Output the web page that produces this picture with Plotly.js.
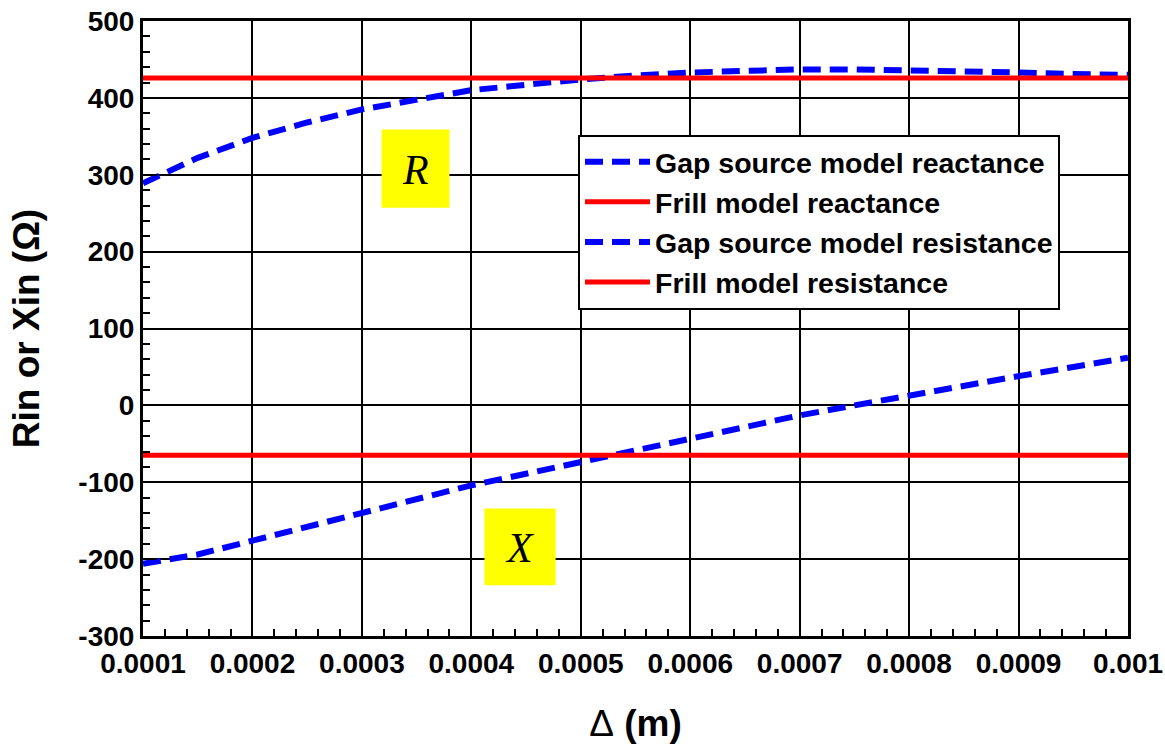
<!DOCTYPE html>
<html><head><meta charset="utf-8">
<script src="https://cdn.plot.ly/plotly-3.0.1.min.js"></script>
<style>html,body{margin:0;padding:0;background:#fff}#plot{width:1165px;height:745px}</style>
</head><body><div id="plot"></div>
<script>
const delta = [0.0001,0.00015,0.0002,0.00025,0.0003,0.00035,0.0004,0.00045,0.0005,0.00055,0.0006,0.00065,0.0007,0.00075,0.0008,0.00085,0.0009,0.00095,0.001];
const gapReactance = [-206,-194,-176,-158,-139,-121,-104,-89,-74,-58,-43,-28,-13,0,13,26,38,50,62];
const gapResistance = [289,322,348,368,385,398,410,417,424,429,433,435,437,437,436,435,433,431,430];
const frillX = [0.0001,0.001];
const frillReactance = [-65,-65];
const frillResistance = [426,426];
const xTickVals = [0.0001,0.0002,0.0003,0.0004,0.0005,0.0006,0.0007,0.0008,0.0009,0.001];
const xTickText = ["0.0001","0.0002","0.0003","0.0004","0.0005","0.0006","0.0007","0.0008","0.0009","0.001"];
const yTickVals = [-300,-200,-100,0,100,200,300,400,500];
const yTickText = ["-300","-200","-100","0","100","200","300","400","500"];

const F = 'Arial, "Liberation Sans", sans-serif';
const blueLine = {color:'#0000ff', width:6, dash:'18px,9px'};
const redLine = {color:'#ff0000', width:5};
const traces = [
  {x:delta, y:gapReactance, mode:'lines', name:'Gap source model reactance', line:blueLine},
  {x:frillX, y:frillReactance, mode:'lines', name:'Frill model reactance', line:redLine},
  {x:delta, y:gapResistance, mode:'lines', name:'Gap source model resistance', line:blueLine},
  {x:frillX, y:frillResistance, mode:'lines', name:'Frill model resistance', line:redLine}
];
const layout = {
  width:1165, height:745,
  margin:{l:143, r:37, t:21, b:109},
  paper_bgcolor:'#fff', plot_bgcolor:'#fff',
  font:{family:F, color:'#000'},
  showlegend:true,
  legend:{x:0.4416, y:0.815, xanchor:'left', yanchor:'top', bgcolor:'#fff', bordercolor:'#000', borderwidth:2,
    itemwidth:65,
    font:{family:F, size:28.5, color:'#000', weight:'bold'}, tracegroupgap:0, traceorder:'normal'},
  xaxis:{range:[0.0001,0.001], tickvals:xTickVals, ticktext:xTickText,
    showline:true, linecolor:'#000', linewidth:3, mirror:true,
    showgrid:true, gridcolor:'#000', gridwidth:1.5,
    ticks:'inside', ticklen:14, tickwidth:2, tickcolor:'#000',
    minor:{dtick:0.00002, ticks:'inside', ticklen:7, tickwidth:1.5, tickcolor:'#000', showgrid:false},
    tickfont:{family:F, size:28, weight:'bold'}, zeroline:false, automargin:false,
    title:{text:'<span style="font-weight:normal">Δ</span> (m)', font:{family:F, size:37, weight:'bold'}, standoff:33}},
  yaxis:{range:[-300,500], tickvals:yTickVals, ticktext:yTickText,
    showline:true, linecolor:'#000', linewidth:3, mirror:true,
    showgrid:true, gridcolor:'#000', gridwidth:1.5,
    ticks:'inside', ticklen:14, tickwidth:2, tickcolor:'#000',
    minor:{dtick:20, ticks:'inside', ticklen:7, tickwidth:1.5, tickcolor:'#000', showgrid:false},
    tickfont:{family:F, size:28, weight:'bold'}, zeroline:false, automargin:false,
    title:{text:'Rin or Xin (Ω)', font:{family:F, size:37, weight:'bold'}, standoff:28}},
  shapes:[
    {type:'rect', xref:'x', yref:'y', x0:0.000318, x1:0.00038, y0:257, y1:359, fillcolor:'#ffff00', line:{width:0}, layer:'above'},
    {type:'rect', xref:'x', yref:'y', x0:0.000412, x1:0.000477, y0:-234, y1:-134, fillcolor:'#ffff00', line:{width:0}, layer:'above'}
  ],
  annotations:[
    {x:0.000349, y:306, xref:'x', yref:'y', text:'<i>R</i>', showarrow:false, font:{family:'"Liberation Serif", "Times New Roman", serif', size:42, color:'#000'}},
    {x:0.0004445, y:-186, xref:'x', yref:'y', text:'<i>X</i>', showarrow:false, font:{family:'"Liberation Serif", "Times New Roman", serif', size:42, color:'#000'}}
  ]
};
Plotly.newPlot('plot', traces, layout, {displayModeBar:false});
</script></body></html>
